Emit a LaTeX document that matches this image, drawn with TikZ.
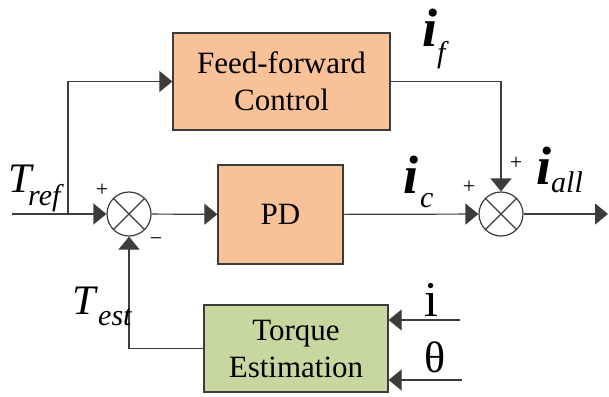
\documentclass[tikz,border=0pt]{standalone}
\usepackage{fontspec}
\setmainfont{LiberationSerif}[Extension=.ttf, UprightFont=*-Regular, BoldFont=*-Bold, ItalicFont=*-Italic, BoldItalicFont=*-BoldItalic]
\usetikzlibrary{arrows.meta}
\definecolor{ffill}{RGB}{248,193,152}
\definecolor{gfill}{RGB}{198,215,160}
\definecolor{edge}{RGB}{60,60,60}
\begin{document}
\begin{tikzpicture}[x=1pt,y=-1pt,
  block/.style={draw=edge, line width=1.3pt, align=center, inner sep=0pt,
    font=\fontsize{31}{37}\selectfont},
  sumnode/.style={circle, draw=edge, line width=1.2pt, minimum size=44pt,
    inner sep=0pt, fill=white,
    path picture={\draw[edge, line width=1.1pt]
      (path picture bounding box.north west) -- (path picture bounding box.south east)
      (path picture bounding box.north east) -- (path picture bounding box.south west);}},
  flow/.style={draw=edge, line width=1.2pt, -{Triangle[length=13pt,width=21pt]}},
  bigT/.style={anchor=base west, inner sep=0pt, font=\fontsize{42}{42}\selectfont\itshape},
  bigi/.style={anchor=base west, inner sep=0pt, font=\fontsize{54}{54}\selectfont\bfseries\itshape},
  subtxt/.style={anchor=base west, inner sep=0pt, font=\fontsize{30}{30}\selectfont\itshape},
  sign/.style={inner sep=0pt, font=\fontsize{22}{22}\selectfont},
  inlabel/.style={anchor=base west, inner sep=0pt}]
\useasboundingbox (0,0) rectangle (609,396);

% blocks
\node[block, fill=ffill, minimum width=217pt, minimum height=97pt] (ff) at (281.5,81.5) {Feed-forward\\Control};
\node[block, fill=ffill, minimum width=125pt, minimum height=99pt] (pd) at (280.5,214.5) {PD};
\node[block, fill=gfill, minimum width=184pt, minimum height=87pt] (te) at (296,348.5) {Torque\\Estimation};

% summing junctions
\node[sumnode] (s1) at (129,214) {};
\node[sumnode] (s2) at (501,214) {};

% free ends
\coordinate (in) at (12,214);
\coordinate (br) at (68,214);
\coordinate (out) at (608,214);
\coordinate (icur) at (460,320);
\coordinate (ang) at (462,380);

% connectors
\draw[flow] (in) -- (s1);
\draw[flow] (br) |- (ff.west);
\draw[flow] (s1) -- (pd);
\draw[flow] (pd) -- (s2);
\draw[flow] (ff.east) -| (s2);
\draw[flow] (s2) -- (out);
\draw[flow] (te.west) -| (s1);
\draw[flow] (icur) -- (icur -| te.east);
\draw[flow] (ang) -- (ang -| te.east);

% signal labels
\node[bigT] (trefT) at (8,192) {T};
\node[subtxt] (trefS) at (28,205) {ref};
\node[bigT] (testT) at (72,314) {T};
\node[subtxt] (testS) at (98,325) {est};
\node[bigi] (ifI) at (422,47) {i};
\node[subtxt] (ifS) at (437,62) {f};
\node[bigi] (icI) at (403,193) {i};
\node[subtxt] (icS) at (420,207) {c};
\node[bigi] (iallI) at (536,184) {i};
\node[subtxt] (iallS) at (551,192) {all};
\node[inlabel, font=\fontsize{50}{50}\selectfont] (iin) at (424,316) {i};
\node[inlabel, font=\fontsize{44}{44}\selectfont] (thin) at (424,372) {θ};

% signs at the junctions
\node[sign] (p1) at (102,190) {+};
\node[sign] (m1) at (156,242) {−};
\node[sign] (p2) at (469,187) {+};
\node[sign] (p3) at (516,163) {+};
\end{tikzpicture}
\end{document}
